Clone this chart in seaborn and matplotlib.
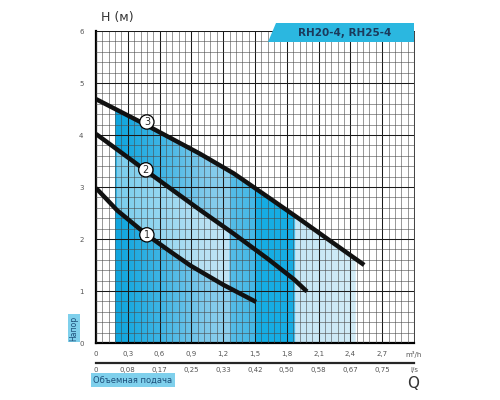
import numpy as np
import pandas as pd
import matplotlib
matplotlib.use("Agg")
import matplotlib.pyplot as plt
import seaborn as sns
from matplotlib.patches import Polygon
from matplotlib.colors import to_rgb

# pump curves (Q in m3/h, H in m)
q1 = [0.0, 0.20, 0.48, 0.70, 0.89, 1.20, 1.51]
h1 = [2.98, 2.55, 2.08, 1.76, 1.49, 1.12, 0.79]
q2 = [0.0, 0.46, 0.98, 1.30, 1.62, 1.87, 1.99]
h2 = [4.02, 3.33, 2.56, 2.10, 1.62, 1.22, 0.99]
q3 = [0.0, 0.42, 0.98, 1.30, 1.62, 1.93, 2.24, 2.53]
h3 = [4.69, 4.25, 3.64, 3.26, 2.81, 2.37, 1.92, 1.50]

label_pos = {"1": (0.48, 2.08), "2": (0.47, 3.33), "3": (0.48, 4.25)}

xticks_m3h = [0, 0.3, 0.6, 0.9, 1.2, 1.5, 1.8, 2.1, 2.4, 2.7, 3.0]
xlabels_m3h = ["0", "0,3", "0,6", "0,9", "1,2", "1,5", "1,8", "2,1", "2,4", "2,7", "m³/h"]
xlabels_ls = ["0", "0,08", "0,17", "0,25", "0,33", "0,42", "0,50", "0,58", "0,67", "0,75", "l/s"]
yticks = [0, 1, 2, 3, 4, 5, 6]

# shaded working area under curve 3: colour stops along Q
shade_x = [0.18, 0.30, 0.60, 1.00, 1.26, 1.27, 1.50, 1.51, 1.87, 1.88, 2.45]
shade_c = ["#0ea5de", "#1aa9e0", "#3db4e4", "#7cc8ea", "#8fd0ee", "#55bde8",
           "#45b8e6", "#16ade4", "#16ade4", "#c5e6f5", "#d2ecf7"]

sns.set_style("white")
plt.rcParams["font.family"] = ["DejaVu Sans"]

fig = plt.figure(figsize=(5, 4), dpi=100)
ax = fig.add_axes([0.192, 0.1425, 0.636, 0.78])

# gradient fill clipped under curve 3
xs = np.linspace(shade_x[0], shade_x[-1], 400)
rgb = np.array([to_rgb(c) for c in shade_c])
img = np.stack([np.interp(xs, shade_x, rgb[:, k]) for k in range(3)], axis=-1)[None, :, :]
im = ax.imshow(img, extent=[shade_x[0], shade_x[-1], 0, 6], aspect="auto",
               origin="lower", zorder=1, interpolation="bilinear")
top = np.interp(xs, q3, h3)
verts = np.vstack([np.column_stack([xs, top]), [[xs[-1], 0], [xs[0], 0]]])
clip_poly = Polygon(verts, closed=True, transform=ax.transData)
im.set_clip_path(clip_poly)
# lighter band between curves 1 and 2
xm = np.linspace(0.19, 1.25, 200)
ax.fill_between(xm, np.interp(xm, q1, h1), np.interp(xm, q2, h2),
                color="white", alpha=0.45, lw=0, zorder=1.2)

df = pd.concat([
    pd.DataFrame({"Q": q1, "H": h1, "curve": "1"}),
    pd.DataFrame({"Q": q2, "H": h2, "curve": "2"}),
    pd.DataFrame({"Q": q3, "H": h3, "curve": "3"}),
])
sns.lineplot(data=df, x="Q", y="H", hue="curve", palette=["#111111"] * 3,
             sort=False, estimator=None, lw=3.2, legend=False, ax=ax, zorder=4,
             solid_capstyle="butt", solid_joinstyle="round")

for k, (x, y) in label_pos.items():
    ax.text(x, y, k, ha="center", va="center", fontsize=7, zorder=5,
            bbox=dict(boxstyle="circle,pad=0.22", fc="white", ec="black", lw=0.9))

ax.set_xlim(0, 3.0)
ax.set_ylim(0, 6)
ax.set_xticks(xticks_m3h)
ax.set_xticklabels(xlabels_m3h)
ax.set_xticks(np.arange(0, 3.0001, 0.06), minor=True)
ax.set_yticks(yticks)
ax.set_yticks(np.arange(0, 6.0001, 0.2), minor=True)
ax.set_axisbelow(False)
ax.grid(which="major", color="#1a1a1a", lw=0.75, zorder=2.5)
ax.grid(which="minor", color="#4a4a4a", lw=0.4, zorder=2.5)
ax.set_xlabel("")
ax.set_ylabel("")
ax.tick_params(axis="both", which="major", labelsize=5, labelcolor="#555555",
               length=3, width=0.8, color="black")
ax.tick_params(axis="x", which="major", direction="out", pad=3)
ax.tick_params(axis="y", which="major", direction="out", pad=6)
ax.tick_params(which="minor", length=0)
for s in ["left", "bottom"]:
    ax.spines[s].set_linewidth(1.6)
    ax.spines[s].set_color("black")
for s in ["top", "right"]:
    ax.spines[s].set_linewidth(0.6)
    ax.spines[s].set_color("#222222")

sec = ax.secondary_xaxis(-0.065)
sec.set_xticks(xticks_m3h)
sec.set_xticklabels(xlabels_ls)
sec.set_xticks([0, 3.0], minor=True)
sec.tick_params(which="major", labelsize=5, labelcolor="#555555", length=0, pad=3)
sec.tick_params(which="minor", direction="inout", length=5, width=1.0, color="black")
sec.spines["bottom"].set_linewidth(1.6)

# captions
fig.text(117 / 500, 1 - 17 / 400, "H (м)", fontsize=9, color="#333333", ha="center", va="center")
fig.text(74 / 500, 1 - 328 / 400, "Напор", rotation=90, fontsize=5.5, color="#1d4f7a",
         ha="center", va="center", bbox=dict(boxstyle="square,pad=0.25", fc="#7fd0ec", ec="none"))
fig.text(133 / 500, 1 - 380 / 400, "Объемная подача", fontsize=6, color="#1d4f7a",
         ha="center", va="center", bbox=dict(boxstyle="square,pad=0.25", fc="#7fd0ec", ec="none"))
fig.text(413 / 500, 1 - 383 / 400, "Q", fontsize=11, color="#333333", ha="center", va="center")

banner = Polygon([(268 / 500, 1 - 42 / 400), (276 / 500, 1 - 23 / 400),
                  (414 / 500, 1 - 23 / 400), (414 / 500, 1 - 42 / 400)],
                 closed=True, transform=fig.transFigure, fc="#2bb7e0", ec="none", zorder=10)
fig.patches.append(banner)
fig.text(345 / 500, 1 - 33 / 400, "RH20-4, RH25-4", fontsize=7.5, fontweight="bold",
         color="#1b3a5c", ha="center", va="center", zorder=11)

fig.savefig("out.png", dpi=100)
